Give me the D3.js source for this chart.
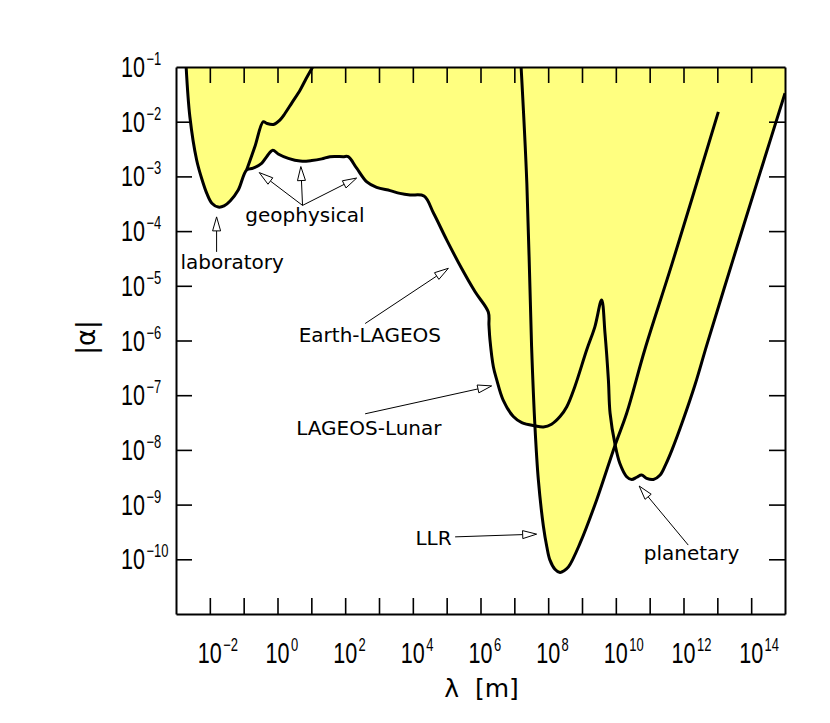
<!DOCTYPE html>
<html>
<head>
    <title>Constraints on |alpha| vs lambda</title>
    <script src="https://d3js.org/d3.v7.min.js"></script>
    <style>
        body {
            margin: 0;
            background: #fff;
        }

        .curve {
            fill: none;
            stroke: #000;
            stroke-width: 3;
            stroke-linejoin: round;
        }

        .excluded {
            fill: #ffff80;
            stroke: none;
        }

        .axis path {
            stroke: #000;
            stroke-width: 2;
        }

        .axis line {
            stroke: #000;
            stroke-width: 1.6;
        }

        .arrow line {
            stroke: #000;
            stroke-width: 1;
        }

        .arrow path {
            fill: #fff;
            stroke: #000;
            stroke-width: 1;
        }

        .note {
            font-family: "DejaVu Sans", sans-serif;
            font-size: 20px;
        }

        .tick-label {
            font-family: "Liberation Sans", Arial, sans-serif;
            font-size: 30px;
        }

        .title {
            font-family: "DejaVu Sans", sans-serif;
            font-size: 25px;
            white-space: pre;
        }
    </style>
</head>
<body>
    <div id="chart"></div>

    <script>
        // all points are [log10 lambda (m), log10 |alpha|]
        const labCurve = [
            [-2.70, -1.00], [-2.59, -1.91], [-2.39, -2.70], [-2.22, -3.08], [-2.09, -3.31],
            [-1.94, -3.49], [-1.75, -3.56], [-1.58, -3.54], [-1.40, -3.45], [-1.16, -3.25],
            [-0.91, -2.88]
        ];
        const labUpper = [
            [-0.91, -2.88], [-0.67, -2.46], [-0.42, -2.00], [-0.32, -2.03], [-0.12, -2.05],
            [0.07, -1.97], [0.22, -1.85], [0.42, -1.66], [0.67, -1.42], [0.84, -1.22], [1.04, -1.00]
        ];
        const geoCurve = [
            [-0.91, -2.88], [-0.72, -2.85], [-0.47, -2.76], [-0.32, -2.64], [-0.14, -2.52],
            [0.02, -2.59], [0.32, -2.67], [0.67, -2.72], [1.01, -2.71], [1.31, -2.68],
            [1.55, -2.64], [1.94, -2.64], [2.09, -2.64], [2.34, -2.85], [2.64, -3.10],
            [2.93, -3.20], [3.33, -3.26], [3.62, -3.31], [3.92, -3.34], [4.33, -3.36]
        ];
        const lageosCurve = [
            [4.33, -3.36], [4.61, -3.67], [5.00, -4.16], [5.44, -4.68], [5.84, -5.11],
            [6.23, -5.48], [6.25, -5.72], [6.28, -5.99], [6.38, -6.48], [6.48, -6.72],
            [6.67, -7.09], [6.97, -7.39], [7.22, -7.50], [7.61, -7.56], [7.86, -7.58],
            [8.10, -7.53], [8.35, -7.39], [8.55, -7.21], [8.79, -6.84], [9.14, -6.17],
            [9.38, -5.75], [9.58, -5.26]
        ];
        const planetCurve = [
            [9.58, -5.26], [9.68, -5.87], [9.78, -6.72], [9.83, -7.33], [9.98, -7.91],
            [10.12, -8.25], [10.32, -8.49], [10.47, -8.54], [10.62, -8.50], [10.76, -8.46],
            [10.91, -8.52], [11.11, -8.54], [11.31, -8.46], [11.48, -8.26], [11.66, -8.00],
            [11.99, -7.45], [12.34, -6.81], [12.69, -6.08], [13.46, -4.53], [14.26, -2.94],
            [15.00, -1.48]
        ];
        const llrCurve = [
            [7.20, -1.00], [7.37, -3.13], [7.51, -6.11], [7.61, -7.58], [7.71, -8.55],
            [7.86, -9.40], [7.96, -9.77], [8.05, -10.01], [8.20, -10.18], [8.35, -10.24],
            [8.47, -10.21], [8.60, -10.14], [8.94, -9.71], [9.43, -8.92], [9.98, -7.91],
            [10.32, -7.33], [10.86, -6.16], [11.66, -4.60], [13.03, -1.82]
        ];

        // annotations
        const noteText = ["laboratory", "geophysical", "Earth-LAGEOS", "LAGEOS-Lunar", "LLR", "planetary"];
        const notePos = [
            [-1.34, -4.69], [0.81, -3.83], [2.73, -6.02], [2.70, -7.73], [4.61, -9.74], [12.24, -10.01]
        ];
        const arrowFrom = [
            [-1.80, -4.38], [0.74, -3.53], [0.74, -3.53], [0.74, -3.53],
            [2.59, -5.69], [2.59, -7.34], [5.25, -9.59], [12.14, -9.74]
        ];
        const arrowTo = [
            [-1.80, -3.74], [-0.54, -2.93], [0.69, -2.82], [2.34, -3.03],
            [5.05, -4.68], [6.33, -6.83], [7.66, -9.54], [10.69, -8.66]
        ];

        // ticks
        const xTickExps = d3.range(-2, 15);
        const xLabelExps = [-2, 0, 2, 4, 6, 8, 10, 12, 14];
        const yTickExps = d3.range(-10, -1);
        const yLabelExps = [-1, -2, -3, -4, -5, -6, -7, -8, -9, -10];

        const width = 830, height = 723;
        const plotLeft = 176, plotRight = 785, plotTop = 67, plotBottom = 614;

        const svg = d3.select("#chart")
            .append("svg")
            .attr("width", width)
            .attr("height", height);

        const x = d3.scaleLog().domain([1e-3, 1e15]).range([plotLeft, plotRight]);
        const y = d3.scaleLog().domain([1e-11, 1e-1]).range([plotBottom, plotTop]);
        const px = d => x(Math.pow(10, d[0]));
        const py = d => y(Math.pow(10, d[1]));

        const line = d3.line().x(px).y(py).curve(d3.curveCatmullRom.alpha(0.5));

        svg.append("clipPath").attr("id", "plot")
            .append("rect")
            .attr("x", plotLeft).attr("y", plotTop)
            .attr("width", plotRight - plotLeft).attr("height", plotBottom - plotTop);

        const plot = svg.append("g").attr("clip-path", "url(#plot)");

        // excluded regions
        const boundary = labCurve.concat(geoCurve.slice(1), lageosCurve.slice(1), planetCurve.slice(1));
        const corner = [15, -1];
        plot.append("path").attr("class", "excluded")
            .attr("d", line(boundary) + `L${px(corner)},${py(corner)}Z`);
        plot.append("path").attr("class", "excluded").attr("d", line(llrCurve) + "Z");

        // boundary curves
        [boundary, labUpper, llrCurve].forEach(c => {
            plot.append("path").attr("class", "curve").attr("d", line(c));
        });

        // axes with inward ticks
        const tv = xTickExps.map(e => Math.pow(10, e));
        const yv = yTickExps.map(e => Math.pow(10, e));
        svg.append("g").attr("class", "axis")
            .attr("transform", `translate(0,${plotBottom})`)
            .call(d3.axisBottom(x).tickValues(tv).tickSize(-16).tickSizeOuter(0).tickFormat(""));
        svg.append("g").attr("class", "axis")
            .attr("transform", `translate(0,${plotTop})`)
            .call(d3.axisTop(x).tickValues(tv).tickSize(-16).tickSizeOuter(0).tickFormat(""));
        svg.append("g").attr("class", "axis")
            .attr("transform", `translate(${plotLeft},0)`)
            .call(d3.axisLeft(y).tickValues(yv).tickSize(-16).tickSizeOuter(0).tickFormat(""));
        svg.append("g").attr("class", "axis")
            .attr("transform", `translate(${plotRight},0)`)
            .call(d3.axisRight(y).tickValues(yv).tickSize(-16).tickSizeOuter(0).tickFormat(""));

        function powerLabel(g, e) {
            const t = g.append("text").attr("class", "tick-label");
            t.append("tspan").text("10");
            t.append("tspan")
                .attr("dx", 2)
                .attr("dy", -12)
                .attr("font-size", 18)
                .text(String(e).replace("-", "\u2212"));
        }

        xLabelExps.forEach(e => {
            const g = svg.append("g")
                .attr("transform", `translate(${x(Math.pow(10, e)) - 12},${plotBottom + 49}) scale(0.72,1)`);
            powerLabel(g, e);
        });

        yLabelExps.forEach(e => {
            const g = svg.append("g")
                .attr("transform", `translate(121,${y(Math.pow(10, e)) + 10}) scale(0.72,1)`);
            powerLabel(g, e);
        });

        // axis titles
        svg.append("text")
            .attr("class", "title")
            .attr("x", (plotLeft + plotRight) / 2 + 1)
            .attr("y", 697)
            .attr("text-anchor", "middle")
            .text("\u03bb  [m]");

        svg.append("text")
            .attr("class", "title")
            .attr("transform", `translate(95,${(plotTop + plotBottom) / 2 - 3}) rotate(-90)`)
            .attr("text-anchor", "middle")
            .style("font-size", "26px")
            .text("|\u03b1|");

        // arrows
        arrowFrom.forEach((a, i) => {
            const b = arrowTo[i];
            const x1 = px(a), y1 = py(a), x2 = px(b), y2 = py(b);
            const ang = Math.atan2(y2 - y1, x2 - x1);
            const len = 14, half = 4;
            const bx = x2 - len * Math.cos(ang), by = y2 - len * Math.sin(ang);
            const g = svg.append("g").attr("class", "arrow");
            g.append("line").attr("x1", x1).attr("y1", y1).attr("x2", bx).attr("y2", by);
            g.append("path").attr("d", d3.line()([
                [x2, y2],
                [bx + half * Math.sin(ang), by - half * Math.cos(ang)],
                [bx - half * Math.sin(ang), by + half * Math.cos(ang)]
            ]) + "Z");
        });

        svg.selectAll(".note")
            .data(noteText)
            .enter()
            .append("text")
            .attr("class", "note")
            .attr("x", (d, i) => px(notePos[i]))
            .attr("y", (d, i) => py(notePos[i]))
            .attr("text-anchor", "middle")
            .text(d => d);
    </script>
</body>
</html>
